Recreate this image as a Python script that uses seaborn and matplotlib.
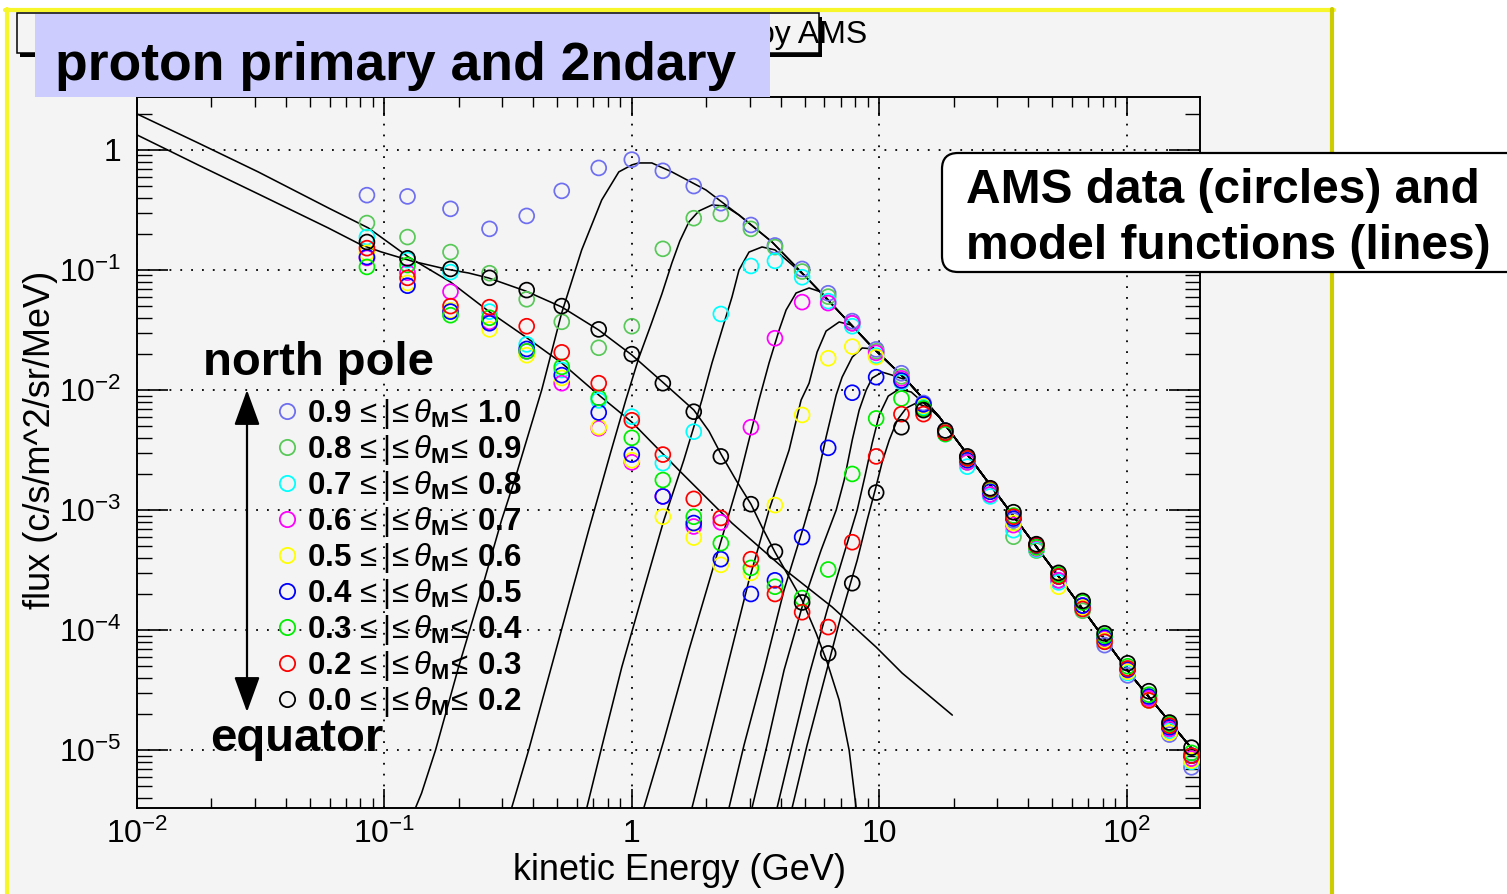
import numpy as np
import pandas as pd
import matplotlib
matplotlib.use("Agg")
import matplotlib.pyplot as plt
import seaborn as sns
from matplotlib.patches import Rectangle, FancyBboxPatch
from matplotlib.lines import Line2D
from matplotlib.ticker import FixedLocator, FixedFormatter, LogLocator, NullFormatter

# ---------------------------------------------------------------- data
energy_gev = [0.085, 0.124, 0.185, 0.266, 0.376, 0.521, 0.735, 1.0, 1.335, 1.78,
              2.29, 3.03, 3.79, 4.88, 6.22, 7.78, 9.72, 12.3, 15.1, 18.5,
              22.7, 28.1, 34.9, 43.2, 53.1, 66.4, 81.5, 101.0, 123.0, 149.0, 183.0]

flux_09_10 = [0.42, 0.41, 0.323, 0.22, 0.282, 0.456, 0.708, 0.83, 0.67, 0.50,
              0.36, 0.237, 0.16, 0.102, 0.064, 0.0375, 0.0218, 0.0138, 0.0078, 0.0046,
              0.0027, 1.45e-3, 8.2e-4, 5.0e-4, 2.8e-4, 1.6e-4, 7.5e-5, 4.2e-5, 2.7e-5, 1.35e-5, 7.2e-6]
flux_08_09 = [0.246, 0.188, 0.141, 0.094, 0.057, 0.037, 0.0225, 0.034, 0.15, 0.27,
              0.293, 0.22, 0.155, 0.097, 0.060, 0.036, 0.021, 0.013, 0.0072, 0.0044,
              0.0025, 1.35e-3, 6.0e-4, 4.6e-4, 2.6e-4, 1.45e-4, 8.5e-5, 4.6e-5, 2.6e-5, 1.6e-5, 8.5e-6]
flux_07_08 = [0.188, 0.121, 0.096, 0.045, 0.024, 0.0147, 0.0082, 0.0060, 0.00246, 0.0045,
              0.043, 0.108, 0.119, 0.087, 0.055, 0.034, 0.0193, 0.0117, 0.0072, 0.0043,
              0.0023, 1.3e-3, 6.8e-4, 4.7e-4, 2.5e-4, 1.5e-4, 8.0e-5, 4.4e-5, 2.6e-5, 1.45e-5, 8.0e-6]
flux_06_07 = [0.126, 0.095, 0.066, 0.037, 0.021, 0.0114, 0.0048, 0.0025, 0.0013, 7.3e-4,
              7.9e-4, 0.0049, 0.027, 0.054, 0.053, 0.036, 0.0204, 0.0125, 0.0075, 0.0045,
              0.0025, 1.35e-3, 7.5e-4, 4.8e-4, 2.6e-4, 1.6e-4, 8.5e-5, 4.6e-5, 2.7e-5, 1.5e-5, 8.5e-6]
flux_05_06 = [0.139, 0.078, 0.046, 0.032, 0.0195, 0.0126, 0.0049, 0.0026, 8.8e-4, 5.9e-4,
              3.5e-4, 3.0e-4, 1.1e-3, 0.0062, 0.0184, 0.023, 0.0188, 0.012, 0.0074, 0.0045,
              0.0026, 1.45e-3, 7.8e-4, 4.9e-4, 2.3e-4, 1.55e-4, 8.2e-5, 4.5e-5, 2.6e-5, 1.4e-5, 8.2e-6]
flux_04_05 = [0.128, 0.074, 0.045, 0.036, 0.022, 0.0133, 0.0065, 0.0029, 0.0013, 7.8e-4,
              3.9e-4, 2.0e-4, 2.6e-4, 5.96e-4, 0.0033, 0.0095, 0.0128, 0.012, 0.0076, 0.0044,
              0.0026, 1.42e-3, 8.5e-4, 5.0e-4, 2.8e-4, 1.6e-4, 8.7e-5, 4.7e-5, 2.8e-5, 1.55e-5, 9.0e-6]
flux_03_04 = [0.106, 0.11, 0.042, 0.040, 0.021, 0.0156, 0.0086, 0.0040, 0.00178, 8.8e-4,
              5.3e-4, 3.3e-4, 2.3e-4, 1.85e-4, 3.2e-4, 0.002, 0.0058, 0.0085, 0.0070, 0.0043,
              0.0027, 1.48e-3, 9.0e-4, 4.9e-4, 2.9e-4, 1.7e-4, 9.0e-5, 5.0e-5, 2.9e-5, 1.65e-5, 9.5e-6]
flux_02_03 = [0.152, 0.086, 0.050, 0.049, 0.034, 0.0206, 0.0114, 0.0056, 0.0029, 0.00124,
              8.6e-4, 3.9e-4, 2.0e-4, 1.41e-4, 1.06e-4, 5.4e-4, 0.0028, 0.0063, 0.0063, 0.0044,
              0.0027, 1.5e-3, 8.8e-4, 5.1e-4, 2.8e-4, 1.5e-4, 8.0e-5, 4.8e-5, 2.6e-5, 1.6e-5, 9.0e-6]
flux_00_02 = [0.171, 0.125, 0.102, 0.086, 0.068, 0.050, 0.032, 0.0199, 0.0114, 0.0066,
              0.0028, 1.12e-3, 4.5e-4, 1.7e-4, 6.4e-5, 2.46e-4, 0.0014, 0.0049, 0.0068, 0.0046,
              0.0028, 1.52e-3, 9.6e-4, 5.2e-4, 3.0e-4, 1.75e-4, 9.4e-5, 5.3e-5, 3.1e-5, 1.7e-5, 1.05e-5]

theta_lo = [0.9, 0.8, 0.7, 0.6, 0.5, 0.4, 0.3, 0.2, 0.0]
theta_hi = [1.0, 0.9, 0.8, 0.7, 0.6, 0.5, 0.4, 0.3, 0.2]
series_colors = ["#6e6ef0", "#58c858", "#00ffff", "#ff00ff", "#ffff00",
                 "#0000ff", "#00ee00", "#ff0000", "#000000"]
series_flux = [flux_09_10, flux_08_09, flux_07_08, flux_06_07, flux_05_06,
               flux_04_05, flux_03_04, flux_02_03, flux_00_02]

# model: common primary power law (high-energy envelope)
env_E = [1.067, 1.205, 1.452, 1.994, 2.712, 3.69, 5.06, 6.89, 9.37, 12.9, 17.5, 30.6, 57.2, 105.7, 197.6]
env_F = [0.779, 0.779, 0.656, 0.464, 0.287, 0.171, 0.0874, 0.0447, 0.0228, 0.0121, 0.00596,
         0.00128, 2.28e-4, 4.06e-5, 8.58e-6]

# model: rising (geomagnetic cutoff) parts of primary functions
cut_09_10_E = [0.1335, 0.1413, 0.1609, 0.1994, 0.2404, 0.2976, 0.3361, 0.4323, 0.5206, 0.6272, 0.7558, 0.886, 1.0]
cut_09_10_F = [3.3e-6, 4.38e-6, 1.0e-5, 4.92e-5, 1.78e-4, 8.25e-4, 1.78e-3, 0.01, 0.0438, 0.1468, 0.383, 0.656, 0.75]
cut_08_09_E = [0.3267, 0.3828, 0.5063, 0.6696, 0.822, 0.9456, 1.067, 1.194, 1.323, 1.452, 1.564, 1.701, 1.867, 2.109, 2.38]
cut_08_09_F = [3.3e-6, 1.0e-5, 8.25e-5, 6.81e-4, 3.04e-3, 8.25e-3, 0.0185, 0.0348, 0.0631, 0.1143, 0.1745, 0.251, 0.31, 0.348, 0.341]
cut_07_08_E = [0.6574, 0.7558, 0.911, 1.118, 1.348, 1.623, 1.920, 2.109, 2.314, 2.541, 2.712, 2.977, 3.36, 3.79]
cut_07_08_F = [3.3e-6, 1.06e-5, 4.92e-5, 2.16e-4, 8.25e-4, 2.61e-3, 8.25e-3, 0.0168, 0.0316, 0.0596, 0.1, 0.141, 0.1555, 0.147]
cut_06_07_E = [1.118, 1.348, 1.701, 2.148, 2.712, 3.266, 3.587, 3.94, 4.204, 4.613, 5.207, 5.823]
cut_06_07_F = [3.3e-6, 1.21e-5, 6.81e-5, 3.48e-4, 1.78e-3, 8.25e-3, 0.0168, 0.0316, 0.0464, 0.0643, 0.0708, 0.0656]
cut_05_06_E = [1.750, 2.05, 2.47, 2.977, 3.587, 4.322, 4.834, 5.207, 5.61, 6.10, 6.89, 7.70]
cut_05_06_F = [3.3e-6, 1.21e-5, 5.62e-5, 2.61e-4, 1.0e-3, 3.16e-3, 8.25e-3, 0.0114, 0.0207, 0.031, 0.0369, 0.0348]
cut_04_05_E = [2.47, 2.841, 3.422, 4.125, 4.970, 5.559, 6.10, 6.70, 7.08, 7.78, 8.54, 9.55]
cut_04_05_F = [3.3e-6, 1.10e-5, 4.64e-5, 2.16e-4, 7.5e-4, 1.68e-3, 4.06e-3, 9.09e-3, 0.0128, 0.0188, 0.0224, 0.0220]
cut_03_04_E = [3.06, 3.52, 4.125, 4.970, 5.823, 6.70, 7.22, 7.78, 8.30, 8.86, 9.37, 10.28, 11.29]
cut_03_04_F = [3.3e-6, 1.10e-5, 4.64e-5, 1.78e-4, 4.64e-4, 1.0e-3, 1.78e-3, 3.83e-3, 6.81e-3, 0.01, 0.0126, 0.0141, 0.0133]
cut_02_03_E = [3.864, 4.444, 5.207, 6.16, 7.22, 8.15, 8.78, 9.37, 10.0, 10.88, 12.05, 13.48]
cut_02_03_F = [3.3e-6, 1.10e-5, 4.22e-5, 1.47e-4, 4.38e-4, 1.0e-3, 1.96e-3, 3.62e-3, 6.19e-3, 8.91e-3, 0.0102, 9.62e-3]
cut_00_02_E = [4.444, 5.11, 5.99, 7.02, 8.15, 8.94, 9.63, 10.28, 10.98, 11.83, 12.86, 14.12, 15.94]
cut_00_02_F = [3.3e-6, 1.10e-5, 3.83e-5, 1.33e-4, 3.83e-4, 8.25e-4, 1.47e-3, 2.51e-3, 3.83e-3, 5.62e-3, 7.08e-3, 7.79e-3, 7.08e-3]

# model: secondary (re-entrant albedo) functions
sec_a_E = [0.01, 0.01766, 0.0309, 0.0593, 0.0807, 0.0972, 0.1286, 0.1766, 0.2188, 0.2637,
           0.3723, 0.5206, 0.7353, 1.0, 1.348, 1.782, 2.05, 2.293, 2.637, 3.032,
           3.36, 3.79, 4.322, 4.877, 5.559, 6.16, 6.89, 7.56, 8.07]
sec_a_F = [1.334, 0.75, 0.43, 0.2239, 0.1616, 0.1413, 0.1189, 0.102, 0.0944, 0.0858,
           0.0668, 0.0492, 0.0316, 0.0196, 0.0114, 6.81e-3, 4.55e-3, 2.93e-3, 1.78e-3, 1.12e-3,
           7.22e-4, 4.47e-4, 2.77e-4, 1.78e-4, 9.44e-5, 5.41e-5, 2.61e-5, 1.0e-5, 3.3e-6]
sec_b_E = [0.01, 0.01766, 0.0309, 0.0593, 0.0861, 0.1251, 0.185, 0.2661, 0.3723, 0.5206,
           0.7353, 1.0, 1.55, 2.541, 4.322, 6.45, 9.72, 12.39, 19.75]
sec_b_F = [1.995, 1.144, 0.656, 0.329, 0.224, 0.1283, 0.0794, 0.0447, 0.0277, 0.0168,
           9.09e-3, 5.41e-3, 2.15e-3, 7.79e-4, 2.99e-4, 1.56e-4, 7.22e-5, 4.38e-5, 1.96e-5]

xtick_vals = [0.01, 0.1, 1, 10, 100]
xtick_labels = [r"$10^{-2}$", r"$10^{-1}$", "1", "10", r"$10^{2}$"]
ytick_vals = [1e-5, 1e-4, 1e-3, 1e-2, 1e-1, 1]
ytick_labels = [r"$10^{-5}$", r"$10^{-4}$", r"$10^{-3}$", r"$10^{-2}$", r"$10^{-1}$", "1"]

# ---------------------------------------------------------------- style
sns.set_theme(style="white")
SANS = ["Liberation Sans", "DejaVu Sans"]
plt.rcParams["font.family"] = SANS
plt.rcParams["mathtext.fontset"] = "custom"
plt.rcParams["mathtext.rm"] = "Liberation Sans"
plt.rcParams["mathtext.it"] = "Liberation Sans:italic"
plt.rcParams["mathtext.sf"] = "Liberation Sans"
plt.rcParams["mathtext.bf"] = "Liberation Sans:bold"

W, H = 1507, 894
fig = plt.figure(figsize=(W / 100, H / 100), dpi=100, facecolor="white")


def fx(x):
    return x / W


def fy(y):
    return 1 - y / H


TF = fig.transFigure
GREY = "#f4f4f4"

# canvas frame (yellow border, grey pad)
fig.add_artist(Rectangle((fx(7), fy(900)), (1332 - 7) / W, (900 - 10) / H,
                         transform=TF, fc=GREY, ec="none", zorder=-10))
fig.add_artist(Line2D([fx(5), fx(1334)], [fy(10), fy(10)], transform=TF,
                      color="#f6f62a", lw=3.0, zorder=-9))
fig.add_artist(Line2D([fx(7), fx(7)], [fy(9), fy(900)], transform=TF,
                      color="#f6f62a", lw=3.0, zorder=-9))
fig.add_artist(Line2D([fx(1332), fx(1332)], [fy(9), fy(900)], transform=TF,
                      color="#cccc00", lw=3.0, zorder=-9))

# ---------------------------------------------------------------- axes
ax = fig.add_axes([fx(137), fy(808), (1200 - 137) / W, (808 - 97) / H])
ax.set_facecolor(GREY)
ax.set_xscale("log")
ax.set_yscale("log")


def full_curve(E_rise, F_rise):
    E = list(E_rise) + [e for e in env_E if e > E_rise[-1]]
    F = list(F_rise) + [f for e, f in zip(env_E, env_F) if e > E_rise[-1]]
    return E, F


cut_curves = [(cut_09_10_E, cut_09_10_F), (cut_08_09_E, cut_08_09_F), (cut_07_08_E, cut_07_08_F),
              (cut_06_07_E, cut_06_07_F), (cut_05_06_E, cut_05_06_F), (cut_04_05_E, cut_04_05_F),
              (cut_03_04_E, cut_03_04_F), (cut_02_03_E, cut_02_03_F), (cut_00_02_E, cut_00_02_F)]

for Er, Fr in cut_curves:
    E, F = full_curve(Er, Fr)
    sns.lineplot(x=E, y=F, sort=False, estimator=None, color="black", linewidth=1.15,
                 ax=ax, legend=False, zorder=2)
for E, F in [(sec_a_E, sec_a_F), (sec_b_E, sec_b_F)]:
    sns.lineplot(x=E, y=F, sort=False, estimator=None, color="black", linewidth=1.15,
                 ax=ax, legend=False, zorder=2)

for flux, col in zip(series_flux, series_colors):
    sns.scatterplot(x=energy_gev, y=flux, ax=ax, color=col, facecolor="none",
                    edgecolor=col, s=115, linewidth=1.25, legend=False, zorder=3)

ax.set_xlim(0.01, 198)
ax.set_ylim(3.3e-6, 2.76)

ax.xaxis.set_major_locator(FixedLocator(xtick_vals))
ax.xaxis.set_major_formatter(FixedFormatter(xtick_labels))
ax.xaxis.set_minor_locator(LogLocator(base=10, subs=np.arange(2, 10), numticks=50))
ax.xaxis.set_minor_formatter(NullFormatter())
ax.yaxis.set_major_locator(FixedLocator(ytick_vals))
ax.yaxis.set_major_formatter(FixedFormatter(ytick_labels))
ax.yaxis.set_minor_locator(LogLocator(base=10, subs=np.arange(2, 10), numticks=50))
ax.yaxis.set_minor_formatter(NullFormatter())

ax.tick_params(axis="x", which="major", direction="in", length=14, width=1.2, color="black",
               top=True, bottom=True, pad=8, labelsize=23, labelcolor="black")
ax.tick_params(axis="x", which="minor", direction="in", length=7, width=1.0, color="black",
               top=True, bottom=True)
ax.tick_params(axis="y", which="major", direction="in", length=22, width=1.2, color="black",
               left=True, right=True, pad=11, labelsize=23, labelcolor="black")
ax.tick_params(axis="y", which="minor", direction="in", length=11, width=1.0, color="black",
               left=True, right=True)

ax.grid(True, which="major", color="black", linestyle=(0, (1, 5)), linewidth=1.3)
ax.grid(False, which="minor")
ax.set_axisbelow(True)
for sp in ax.spines.values():
    sp.set_color("black")
    sp.set_linewidth(1.4)

ax.set_xlabel("kinetic Energy (GeV)", fontsize=26, color="black")
ax.xaxis.set_label_coords((679 - 137) / 1063, (808 - 853) / 711)
ax.set_ylabel("flux (c/s/m^2/sr/MeV)", fontsize=26, color="black")
ax.yaxis.set_label_coords((58 - 137) / 1063, (808 - 440) / 711)

# ---------------------------------------------------------------- annotations
# ROOT title box (mostly hidden behind the heading)
fig.add_artist(Rectangle((fx(20), fy(57)), 802 / W, 40 / H, transform=TF,
                         fc="black", ec="none", zorder=3))
fig.add_artist(Rectangle((fx(17), fy(53)), 802 / W, 40 / H, transform=TF,
                         fc=GREY, ec="black", lw=1.1, zorder=3.1))
fig.text(fx(867), fy(43), "by AMS", ha="right", va="baseline", fontsize=23,
         color="black", zorder=3.2)

# lavender heading
fig.add_artist(Rectangle((fx(35), fy(97)), 735 / W, 83 / H, transform=TF,
                         fc="#ccccff", ec="none", zorder=4))
fig.text(fx(55), fy(80), "proton primary and 2ndary", ha="left", va="baseline",
         fontsize=38.5, fontweight="bold", color="black", zorder=5)

# right info box
fig.add_artist(FancyBboxPatch((942, H - 272), 620, 119, boxstyle="round,pad=0,rounding_size=16",
                              transform=None, fc="white", ec="black", lw=1.6, zorder=4))
fig.text(fx(966), fy(203), "AMS data (circles) and", ha="left", va="baseline",
         fontsize=34.5, fontweight="bold", color="black", zorder=5)
fig.text(fx(966), fy(259), "model functions (lines)", ha="left", va="baseline",
         fontsize=34.5, fontweight="bold", color="black", zorder=5)

# north pole / equator
fig.text(fx(203), fy(375), "north pole", ha="left", va="baseline", fontsize=34,
         fontweight="bold", color="black", zorder=5)
fig.text(fx(210), fy(751), "equator", ha="left", va="baseline", fontsize=34,
         fontweight="bold", color="black", zorder=5)
ax.annotate("", xy=(fx(247), fy(390)), xytext=(fx(247), fy(712)),
            xycoords="figure fraction", textcoords="figure fraction",
            arrowprops=dict(arrowstyle="<|-|>,head_length=0.55,head_width=0.2",
                            color="black", lw=1.6, mutation_scale=40,
                            shrinkA=0, shrinkB=0), zorder=5)

# legend
row_y0, row_dy = 411, 36
for i, (lo, hi, col) in enumerate(zip(theta_lo, theta_hi, series_colors)):
    yc = row_y0 + i * row_dy
    fig.add_artist(Line2D([fx(287)], [fy(yc)], transform=TF, marker="o", linestyle="none",
                          mfc="none", mec=col, ms=11, mew=1.3, zorder=5))
    label = f"{lo:.1f}" + r"$\,\leq|\!\leq\theta_{\mathbf{M}}\!\leq\,$" + f"{hi:.1f}"
    fig.text(fx(307), fy(yc + 11), label, ha="left", va="baseline", fontsize=22.5,
             fontweight="bold", color="black", zorder=5)

fig.savefig("out.png", dpi=100, facecolor=fig.get_facecolor())
